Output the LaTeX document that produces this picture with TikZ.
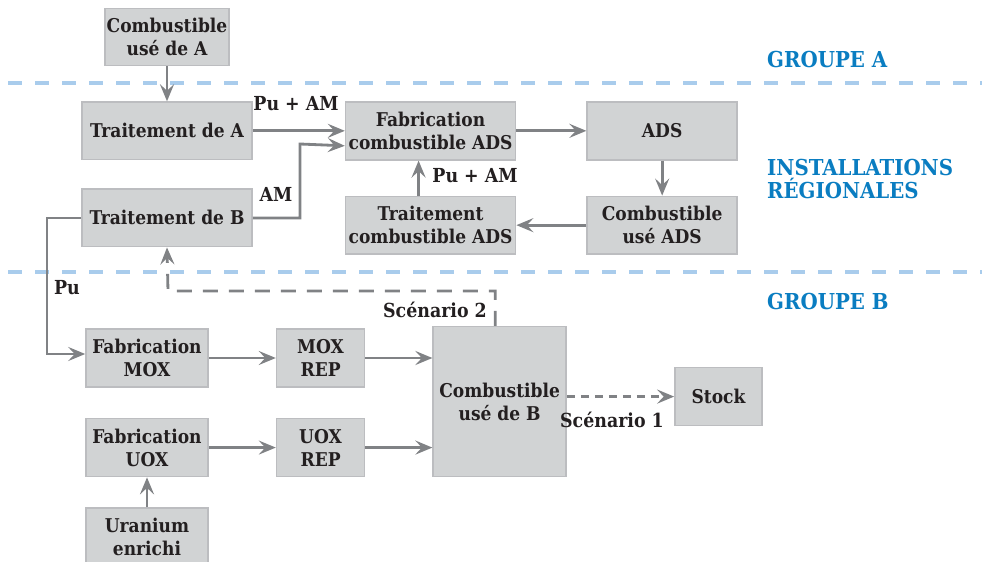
\documentclass[tikz,border=0pt]{standalone}
\usepackage{fontspec}
\setmainfont{DejaVu Serif Condensed}
\usepackage{tikz}
\usetikzlibrary{arrows.meta, positioning, calc}
\definecolor{boxfill}{HTML}{D1D3D4}
\definecolor{boxline}{HTML}{BCBDC0}
\definecolor{flow}{HTML}{808285}
\definecolor{zone}{HTML}{0A7DC1}
\definecolor{border}{HTML}{A9CCEC}
\definecolor{ink}{HTML}{231F20}

\begin{document}
\begin{tikzpicture}[
        box/.style={rectangle, draw=boxline, fill=boxfill, line width=0.9pt, minimum height=1.15cm, inner sep=1pt, align=center, text=ink, font=\fontsize{10.8}{13.2}\selectfont\bfseries},
        arrow/.style={-{Stealth[length=3.4mm, width=2.8mm, inset=1.3mm]}, line width=1.6pt, flow},
        lab/.style={text=ink, font=\fontsize{11}{13}\selectfont\bfseries},
        zonelab/.style={anchor=west, align=left, text=zone, font=\fontsize{12.5}{13.2}\selectfont\bfseries},
        frontier/.style={border, line width=1.8pt, dash pattern=on 0.28cm off 0.26cm}
    ]
        \useasboundingbox (0,0) rectangle (19.64,-11.24);

        % zones
        \draw[frontier] (0.16,-1.66) -- (19.64,-1.66);
        \draw[frontier] (0.16,-5.44) -- (19.64,-5.44);
        \node[zonelab] (grA) at (15.22,-1.20) {GROUPE A};
        \node[zonelab] (reg) at (15.22,-3.58) {INSTALLATIONS\\RÉGIONALES};
        \node[zonelab] (grB) at (15.22,-6.04) {GROUPE B};

        % groupe A et installations regionales
        \node[box, minimum width=2.42cm, minimum height=1.14cm] (combA) at (3.34,-0.74) {Combustible\\usé de A};
        \node[box, minimum width=3.4cm, below=0.70cm of combA] (traitA) {Traitement de A};
        \node[box, minimum width=3.4cm, below=0.56cm of traitA] (traitB) {Traitement de B};
        \node[box, minimum width=3.4cm, minimum height=1.16cm, right=1.84cm of traitA] (fabADS) {Fabrication\\combustible ADS};
        \node[box, minimum width=3.0cm, minimum height=1.16cm, right=1.40cm of fabADS] (ads) {ADS};
        \node[box, minimum width=3.0cm, below=0.70cm of ads] (useADS) {Combustible\\usé ADS};
        \node[box, minimum width=3.4cm, left=1.40cm of useADS] (traitADS) {Traitement\\combustible ADS};

        % groupe B
        \node[box, minimum width=2.44cm, minimum height=1.16cm] (fabMOX) at (2.94,-7.16) {Fabrication\\MOX};
        \node[box, minimum width=1.76cm, minimum height=1.16cm, right=1.34cm of fabMOX] (mox) {MOX\\REP};
        \node[box, minimum width=2.44cm, minimum height=1.16cm, below=0.60cm of fabMOX] (fabUOX) {Fabrication\\UOX};
        \node[box, minimum width=1.76cm, minimum height=1.16cm, right=1.34cm of fabUOX] (uox) {UOX\\REP};
        \node[box, minimum width=2.44cm, minimum height=1.14cm, below=0.60cm of fabUOX] (uran) {Uranium\\enrichi};
        \node[box, minimum width=2.66cm, minimum height=3.0cm, anchor=south west] (combB) at ($(uox.south east)+(1.34,0)$) {Combustible\\usé de B};
        \node[box, minimum width=1.74cm, minimum height=1.16cm] (stock) at ($(combB.east)+(3.03,0.10)$) {Stock};

        \coordinate (inB) at ($(fabADS.west)+(0,-0.30)$);

        \draw[arrow] (combA.south) -- (traitA.north);
        \draw[arrow] (traitA.east) -- (traitA.east -| fabADS.west);
        \draw[arrow] (traitB.east) -| (6.0,-2.88) -- (inB);
        \draw[arrow] (fabADS.east) -- (ads.west);
        \draw[arrow] (ads.south) -- (useADS.north);
        \draw[arrow] (useADS.west) -- (traitADS.east);
        \draw[arrow] ($(traitADS.north)+(-0.24,0)$) -- ($(fabADS.south)+(-0.24,0)$);
        \draw[arrow] (traitB.west) -| (0.94,-7.08) -- (0.94,-7.08 -| fabMOX.west);
        \draw[arrow] (fabMOX.east) -- (mox.west);
        \draw[arrow] (mox.east) -- (mox.east -| combB.west);
        \draw[arrow] (fabUOX.east) -- (uox.west);
        \draw[arrow] (uox.east) -- (uox.east -| combB.west);
        \draw[arrow] (uran.north) -- (fabUOX.north |- fabUOX.south);
        \draw[arrow, dash pattern=on 0.16cm off 0.12cm] (stock.west -| combB.east) -- (stock.west);
        \draw[arrow, dash pattern=on 0.3cm off 0.22cm] ($(combB.north)+(-0.09,0)$) |- (3.36,-5.82) -- (traitB.south);

        % labels
        \node[lab] (puam1) at (5.92,-2.08) {Pu + AM};
        \node[lab] (am) at (5.52,-3.88) {AM};
        \node[lab] (puam2) at (9.50,-3.52) {Pu + AM};
        \node[lab] (pu) at (1.34,-5.76) {Pu};
        \node[lab] (sc2) at (8.70,-6.20) {Scénario 2};
        \node[lab] (sc1) at (12.24,-8.40) {Scénario 1};
    \end{tikzpicture}
\end{document}
